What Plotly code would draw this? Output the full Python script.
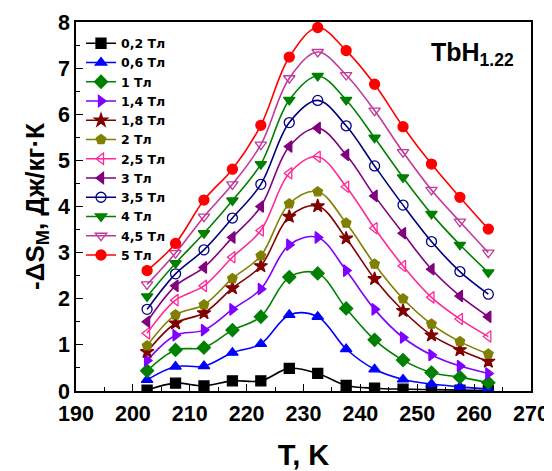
import plotly.graph_objects as go

T = [202.5, 207.5, 212.5, 217.5, 222.5, 227.5, 232.5, 237.5, 242.5, 247.5, 252.5, 257.5, 262.5]

s02 = [0.02, 0.17, 0.11, 0.22, 0.22, 0.49, 0.38, 0.12, 0.06, 0.04, 0.03, 0.02, 0.01]
s06 = [0.24, 0.53, 0.54, 0.83, 1.02, 1.65, 1.61, 0.91, 0.47, 0.25, 0.15, 0.09, 0.04]
s1 = [0.44, 0.89, 0.94, 1.32, 1.61, 2.47, 2.55, 1.79, 1.11, 0.67, 0.40, 0.30, 0.18]
s14 = [0.66, 1.21, 1.32, 1.77, 2.21, 3.17, 3.33, 2.61, 1.77, 1.16, 0.78, 0.54, 0.38]
s18 = [0.85, 1.47, 1.69, 2.23, 2.71, 3.78, 4.01, 3.31, 2.43, 1.74, 1.21, 0.89, 0.64]
s2 = [0.98, 1.65, 1.87, 2.44, 2.93, 4.06, 4.32, 3.64, 2.75, 2.00, 1.45, 1.07, 0.80]
s25 = [1.25, 1.97, 2.28, 2.90, 3.48, 4.72, 5.08, 4.43, 3.53, 2.71, 2.03, 1.56, 1.18]
s3 = [1.50, 2.28, 2.68, 3.33, 4.00, 5.30, 5.70, 5.12, 4.23, 3.42, 2.64, 2.06, 1.61]
s35 = [1.77, 2.54, 3.06, 3.75, 4.48, 5.82, 6.30, 5.75, 4.88, 4.03, 3.24, 2.59, 2.10]
s4 = [2.05, 2.77, 3.42, 4.13, 4.92, 6.31, 6.83, 6.31, 5.49, 4.63, 3.84, 3.17, 2.57]
s45 = [2.31, 2.99, 3.78, 4.48, 5.34, 6.78, 7.35, 6.85, 6.08, 5.18, 4.36, 3.67, 3.00]
s5 = [2.61, 3.20, 4.14, 4.81, 5.76, 7.24, 7.88, 7.38, 6.65, 5.73, 4.92, 4.20, 3.51]

names = ["0,2 Тл", "0,6 Тл", "1 Тл", "1,4 Тл", "1,8 Тл", "2 Тл",
         "2,5 Тл", "3 Тл", "3,5 Тл", "4 Тл", "4,5 Тл", "5 Тл"]
series = [s02, s06, s1, s14, s18, s2, s25, s3, s35, s4, s45, s5]
colors = ["#000000", "#0000FF", "#008000", "#8000FF", "#800000", "#808000",
          "#FF2A95", "#800080", "#000080", "#008000", "#C0399A", "#FF0000"]
symbols = ["square", "triangle-up", "diamond", "triangle-right", "star", "pentagon",
           "triangle-left-open", "triangle-left", "circle-open", "triangle-down",
           "triangle-down-open", "circle"]

FONT = "Arial, 'Liberation Sans', sans-serif"

fig = go.Figure()
for nm, ys, c, sym in zip(names, series, colors, symbols):
    fig.add_trace(go.Scatter(
        x=T, y=ys, name=nm, mode="lines+markers",
        line=dict(color=c, width=1.6, shape="spline", smoothing=1.0),
        marker=dict(symbol=sym, size=10, color=c, line=dict(color=c, width=1.3)),
    ))

fig.add_annotation(
    x=0.967, y=0.914, xref="paper", yref="paper", xanchor="right", yanchor="middle",
    text="<b>TbH<sub>1.22</sub></b>", showarrow=False,
    font=dict(family=FONT, size=25, color="black"),
)

axis_common = dict(
    showline=True, linecolor="black", linewidth=1.5, mirror=True,
    ticks="inside", ticklen=7, tickwidth=1.2, tickcolor="black",
    showgrid=False, zeroline=False, automargin=False,
    tickfont=dict(family=FONT, size=21.5, color="black", weight="bold"),
)

fig.update_xaxes(
    range=[190, 270], dtick=10, tick0=190, ticklabelstandoff=2,
    minor=dict(dtick=5, ticks="inside", ticklen=4, tickcolor="black", tickwidth=1.2),
    title=dict(text="<b>T, K</b>", font=dict(family=FONT, size=29, color="black"), standoff=20),
    **axis_common,
)
fig.update_yaxes(
    range=[0, 8], dtick=1, tick0=0,
    minor=dict(dtick=0.5, ticks="inside", ticklen=4, tickcolor="black", tickwidth=1.2),
    title=dict(text="<b>-ΔS<sub>М</sub>, Дж/кг·К</b>", font=dict(family=FONT, size=26, color="black"), standoff=6),
    **axis_common,
)

fig.update_layout(
    width=552, height=471,
    margin=dict(l=68, r=29, t=14, b=88),
    plot_bgcolor="white", paper_bgcolor="white",
    showlegend=True,
    legend=dict(x=0.011, y=0.982, xanchor="left", yanchor="top",
                bgcolor="rgba(0,0,0,0)", borderwidth=0, maxheight=420,
                font=dict(family="'DejaVu Sans', sans-serif", size=12.5, color="black", weight="bold"),
                itemwidth=30, tracegroupgap=0),
)

fig.write_html("out.html")
